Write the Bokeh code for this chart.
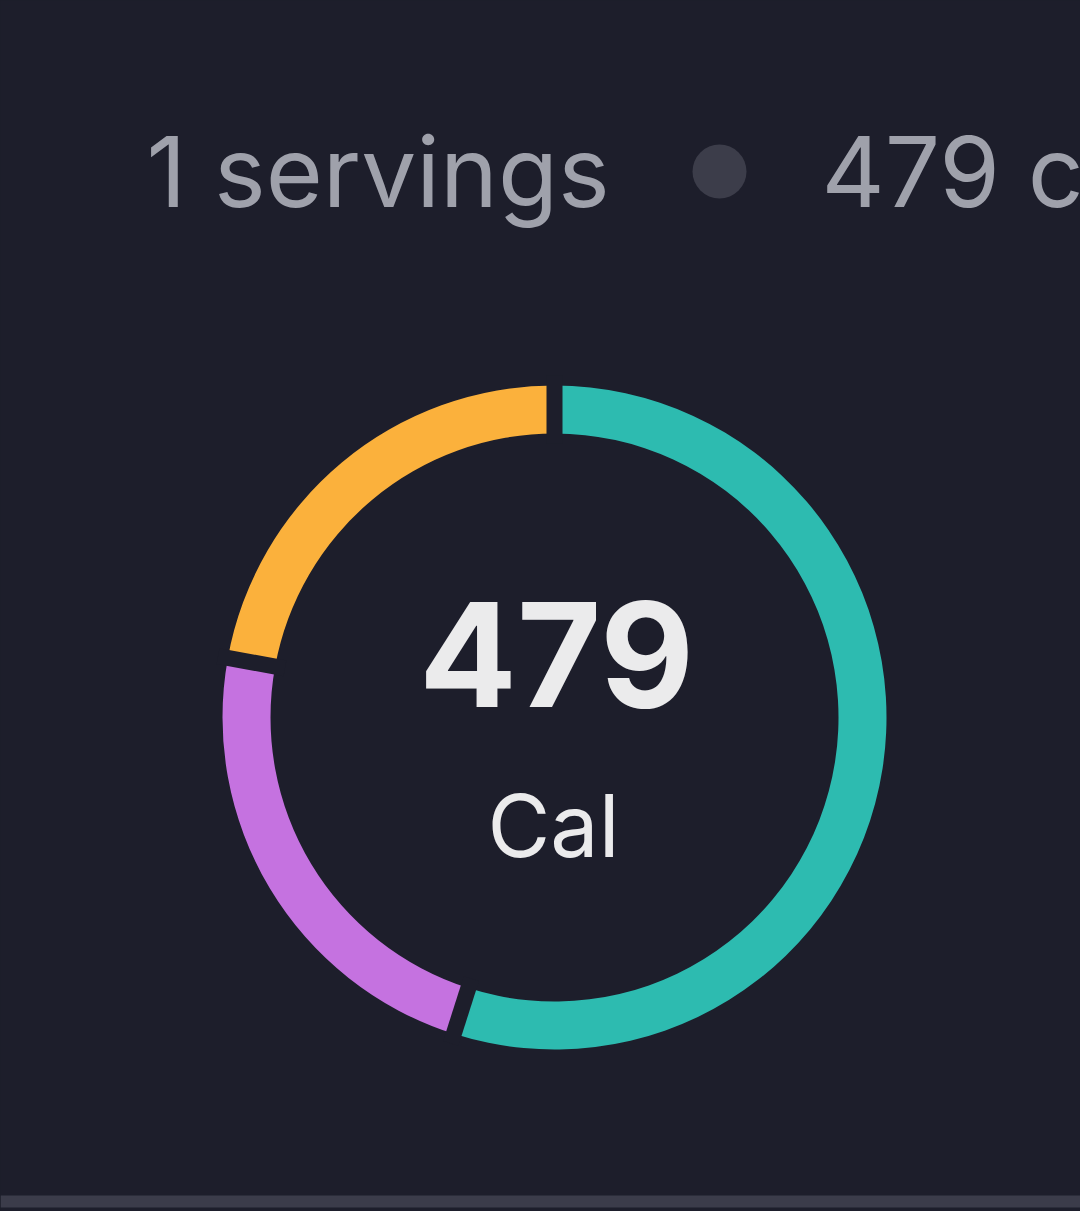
import math
from bokeh.plotting import figure
from bokeh.models import Range1d
from bokeh.core.properties import value
from bokeh.embed import file_html
from bokeh.resources import INLINE

# ---- data ----
macro_names = ["Carbs", "Protein", "Fat"]
macro_kcal = [263, 110, 106]
macro_colors = ["#2dbbb0", "#c572e0", "#fbb13c"]
total_cal = 479
servings = 1
header_left = f"{servings} servings"
header_right = f"{total_cal} cal"
center_label = "Cal"

# ---- layout (pixel space, y up) ----
W, H = 1080, 1211
BG = "#1d1e2b"
cx, cy = 554, H - 717
R_out, R_in = 332, 284
gap_px = 16

p = figure(width=W, height=H, output_backend="svg", toolbar_location=None,
           x_range=Range1d(0, W), y_range=Range1d(0, H),
           min_border=0, border_fill_color=BG, background_fill_color=BG)
p.axis.visible = False
p.grid.visible = False
p.outline_line_color = None

# donut segments, clockwise from top
total = sum(macro_kcal)
starts, ends = [], []
acc = 0.0
for v in macro_kcal:
    a0 = math.pi / 2 - 2 * math.pi * acc / total
    acc += v
    a1 = math.pi / 2 - 2 * math.pi * acc / total
    starts.append(a0)
    ends.append(a1)

p.annular_wedge(x=[cx] * len(macro_kcal), y=[cy] * len(macro_kcal),
                inner_radius=R_in, outer_radius=R_out,
                start_angle=starts, end_angle=ends, direction="clock",
                fill_color=macro_colors, line_color=None)

# parallel-sided gaps at segment boundaries
gx0, gy0, gx1, gy1 = [], [], [], []
for a in starts:
    gx0.append(cx + (R_in - 10) * math.cos(a))
    gy0.append(cy + (R_in - 10) * math.sin(a))
    gx1.append(cx + (R_out + 10) * math.cos(a))
    gy1.append(cy + (R_out + 10) * math.sin(a))
p.segment(x0=gx0, y0=gy0, x1=gx1, y1=gy1, line_color=BG, line_width=gap_px)

# center texts
p.text(x=[556], y=[H - 654], text=[str(total_cal)], text_align="center",
       text_baseline="alphabetic", text_font=value("Inter"),
       text_font_style="bold", text_font_size="145px", text_color="#ebebec")
p.text(x=[553], y=[H - 825], text=[center_label], text_align="center",
       text_baseline="alphabetic", text_font=value("Inter"),
       text_font_size="86px", text_color="#ebebec")

# header
p.text(x=[146], y=[H - 171], text=[header_left], text_align="left",
       text_baseline="alphabetic", text_font=value("Inter"),
       text_font_size="98px", text_color="#9fa1ab")
p.circle(x=[719], y=[H - 171], radius=27, fill_color="#3c3d4a", line_color=None)
p.text(x=[821], y=[H - 171], text=[header_right], text_align="left",
       text_baseline="alphabetic", text_font=value("Inter"),
       text_font_size="98px", text_color="#9fa1ab")

# bottom divider band
p.quad(left=[0], right=[W], bottom=[4], top=[16], fill_color="#3b3c4a", line_color=None)

html = file_html(p, INLINE)
html = html.replace("<head>", "<head><style>body{background:%s;}</style>" % BG, 1)
open("out.html", "w").write(html)
